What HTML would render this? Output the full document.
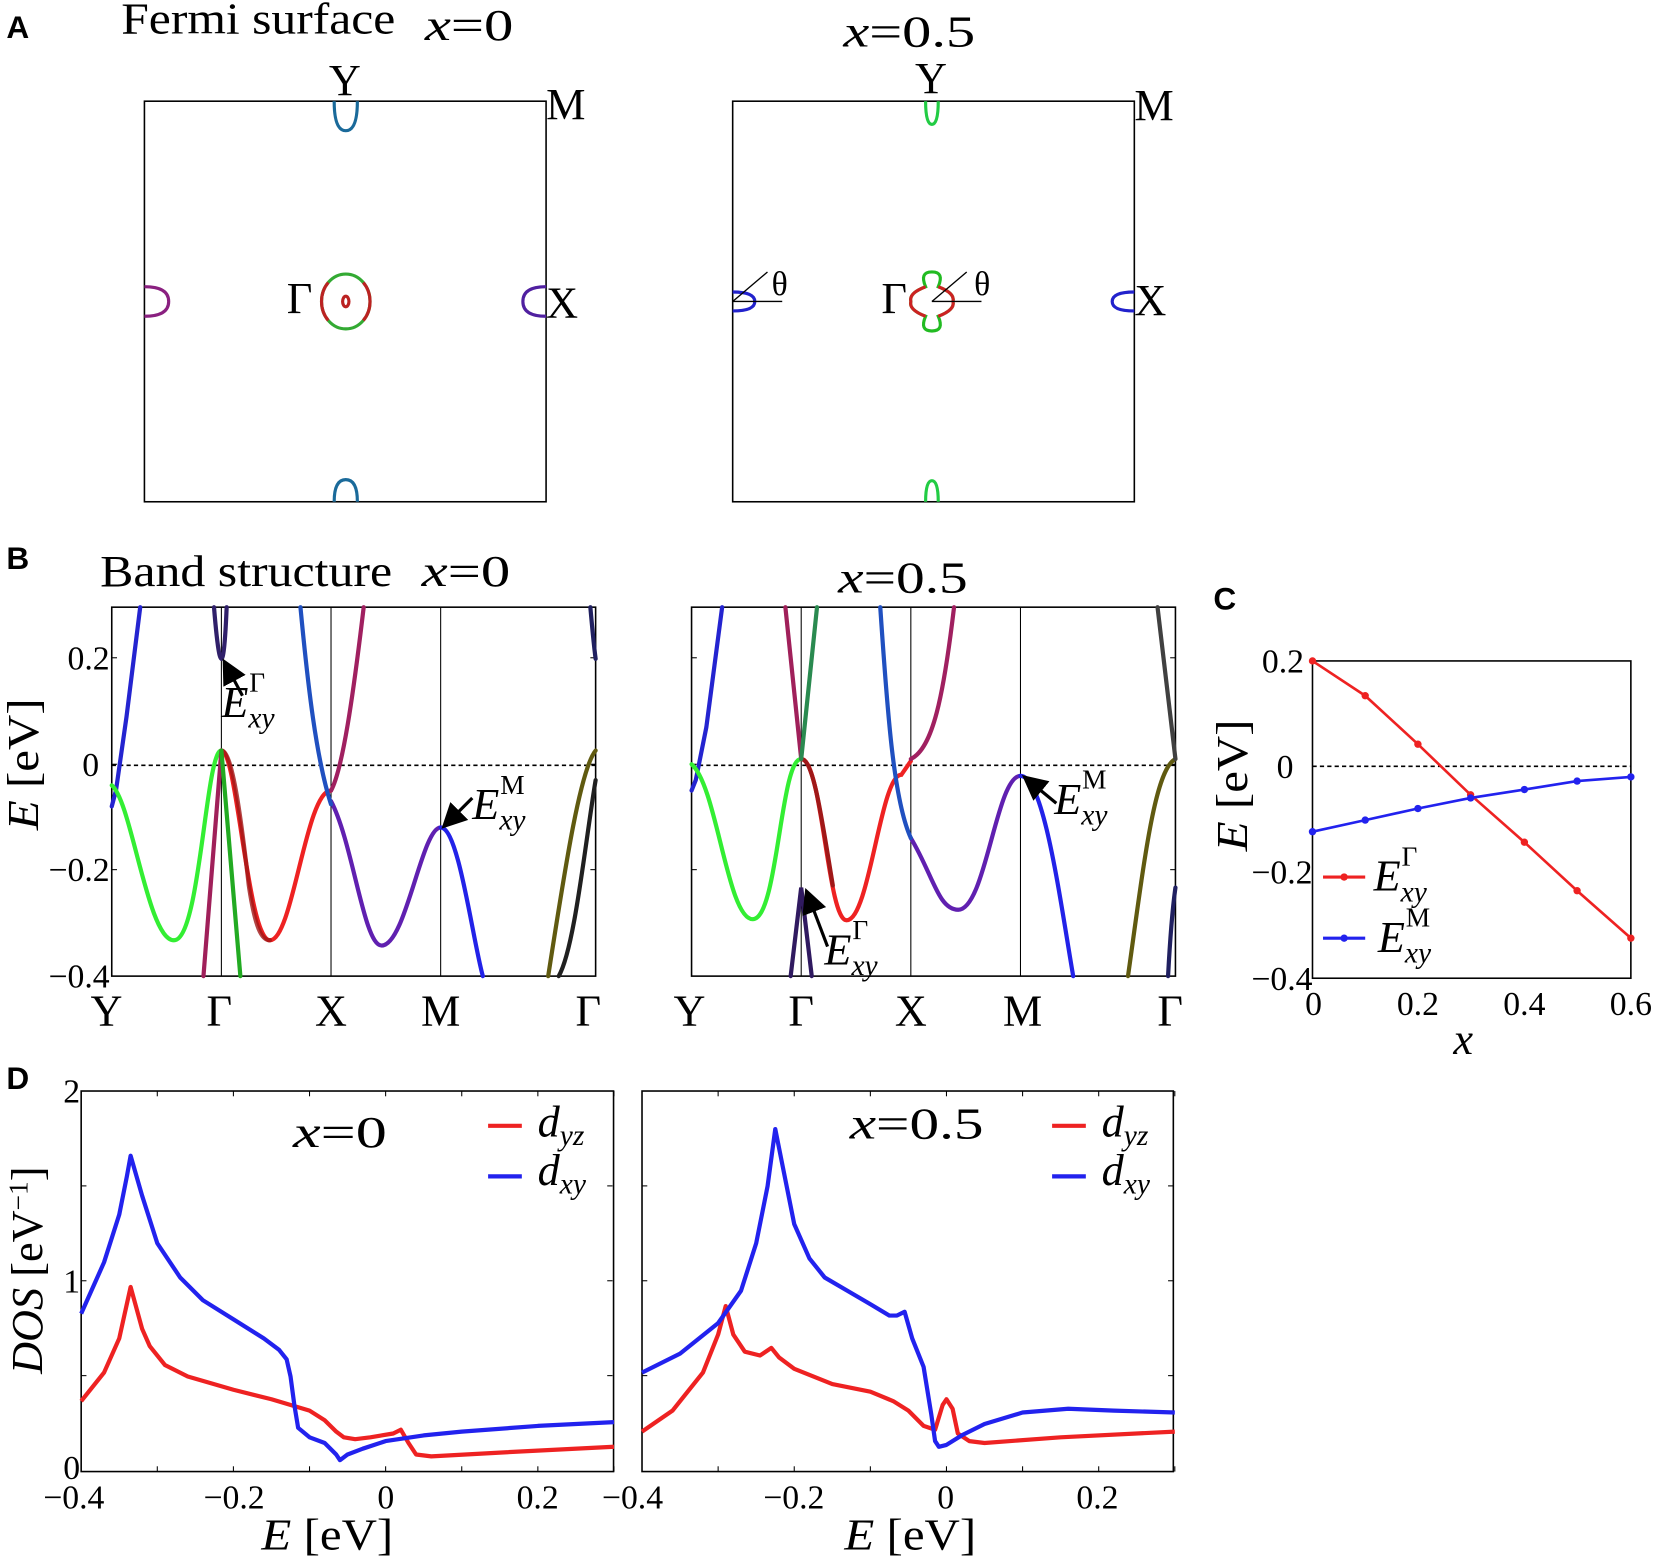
<!DOCTYPE html>
<html><head><meta charset="utf-8"><style>
html,body{margin:0;padding:0;background:#fff}
svg{display:block}
text{font-family:"Liberation Serif",serif;fill:#000}
.t{font-size:32px}
.b{font-family:"Liberation Sans",sans-serif;font-weight:bold;font-size:30px}
.big{font-size:42px}
</style></head><body>
<svg id="s" width="1653" height="1558" viewBox="0 0 1568 1478" preserveAspectRatio="none" xmlns="http://www.w3.org/2000/svg">
<defs><marker id="ar" markerWidth="8" markerHeight="8" refX="6" refY="4" orient="auto"><path d="M0,0 L8,4 L0,8 z" fill="#000"/></marker></defs>
<!-- Panel A -->
<text class="b" x="6" y="36">A</text>
<text class="big" x="115" y="32" textLength="260" lengthAdjust="spacingAndGlyphs">Fermi surface</text>
<text class="big" x="403" y="38" textLength="84" lengthAdjust="spacingAndGlyphs"><tspan font-style="italic">x</tspan>=0</text>
<text class="big" x="800" y="44" textLength="125" lengthAdjust="spacingAndGlyphs"><tspan font-style="italic">x</tspan>=0.5</text>
<rect x="137" y="96" width="381" height="380" fill="none" stroke="#000" stroke-width="1.5"/>
<rect x="695" y="96" width="381" height="380" fill="none" stroke="#000" stroke-width="1.5"/>
<g class="big">
<text x="312" y="90">Y</text><text x="518" y="113">M</text><text x="272" y="297">Γ</text><text x="518" y="301">X</text>
<text x="868" y="88">Y</text><text x="1076" y="114">M</text><text x="836" y="297">Γ</text><text x="1076" y="299">X</text>
</g>
<g fill="none" stroke-width="3">
<ellipse cx="328" cy="286" rx="23" ry="26" stroke="#3a3"/>
<path d="M311.4,268 A23,26 0 0 0 311.4,304 M344.6,268 A23,26 0 0 1 344.6,304" stroke="#b22"/>
<ellipse cx="328" cy="286" rx="3" ry="5" stroke="#b22"/>
<path d="M317,96 Q317,124 328,124 Q339,124 339,96" stroke="#1a6a9a"/>
<path d="M317,476 Q317,455 328,455 Q339,455 339,476" stroke="#1a6a9a"/>
<path d="M137,272 Q160,272 160,286 Q160,300 137,300" stroke="#8a2080"/>
<path d="M518,272 Q496,272 496,286 Q496,300 518,300" stroke="#5020a0"/>
<path d="M884,258 Q896,258 890,272 Q906,278 904,286 Q906,294 890,300 Q896,314 884,314 Q872,314 878,300 Q862,294 864,286 Q862,278 878,272 Q872,258 884,258z" stroke="#2b2"/>
<path d="M878,272 Q862,278 864,286 Q862,294 878,300 M890,272 Q906,278 904,286 Q906,294 890,300" stroke="#c22"/>
<path d="M878,96 Q878,118 884,118 Q890,118 890,96" stroke="#2c4"/>
<path d="M878,476 Q878,456 884,456 Q890,456 890,476" stroke="#2c4"/>
<path d="M695,277 Q716,277 716,286 Q716,295 695,295" stroke="#22c"/>
<path d="M1076,277 Q1055,277 1055,286 Q1055,295 1076,295" stroke="#22c"/>
</g>
<g stroke="#000" stroke-width="1.3">
<line x1="695" y1="286" x2="742" y2="286"/><line x1="695" y1="286" x2="728" y2="258"/>
<line x1="884" y1="286" x2="931" y2="286"/><line x1="884" y1="286" x2="917" y2="258"/>
</g>
<text class="t" x="732" y="280">θ</text><text class="t" x="924" y="280">θ</text>
<!-- Panel B -->
<text class="b" x="6" y="540">B</text>
<text class="big" x="95" y="556" textLength="277" lengthAdjust="spacingAndGlyphs">Band structure</text>
<text class="big" x="400" y="556" textLength="84" lengthAdjust="spacingAndGlyphs"><tspan font-style="italic">x</tspan>=0</text>
<text class="big" x="795" y="562" textLength="123" lengthAdjust="spacingAndGlyphs"><tspan font-style="italic">x</tspan>=0.5</text>
<g id="bframes"></g>
<text class="big" transform="translate(36,725) rotate(-90)" text-anchor="middle" textLength="125" lengthAdjust="spacingAndGlyphs"><tspan font-style="italic">E</tspan> [eV]</text>
<g class="t" text-anchor="end">
<text x="104" y="635">0.2</text><text x="94" y="736">0</text><text x="104" y="836">−0.2</text><text x="104" y="937">−0.4</text>
</g>
<g class="big" text-anchor="middle">
<text x="101" y="973">Y</text><text x="208" y="973">Γ</text><text x="314" y="973">X</text><text x="418" y="973">M</text><text x="558" y="973">Γ</text>
<text x="654" y="973">Y</text><text x="760" y="973">Γ</text><text x="864" y="973">X</text><text x="970" y="973">M</text><text x="1110" y="973">Γ</text>
</g>
<g fill="none" stroke-width="4" stroke-linecap="round">
<path d="M133,576 L120,680 L110,750 L106,765" stroke="#2424d0"/>
<path d="M106,745 C125,760 140,892 165,892 C190,892 195,712 210,712" stroke="#3e3"/>
<path d="M210,712 C225,712 235,892 256,892 C278,892 290,750 314,750" stroke="#e22"/>
<path d="M210,712 C220,712 228,770 236,840 C242,880 248,892 256,892" stroke="#a01818" opacity=".8"/>
<path d="M314,760 C335,800 345,897 362,897 C385,897 400,785 418,785" stroke="#6020b0"/>
<path d="M418,785 C435,785 448,890 458,926" stroke="#2222e8"/>
<path d="M193,926 L210,712" stroke="#a0205a"/>
<path d="M210,712 L228,926" stroke="#2a2"/>
<path d="M203,576 Q207,625 210,625 Q213,625 215,576" stroke="#30206a"/>
<path d="M285,576 C292,650 300,720 314,763" stroke="#2050c0"/>
<path d="M345,576 C335,660 325,730 314,750" stroke="#a02060"/>
<path d="M520,926 C535,830 550,730 565,712" stroke="#605a10"/>
<path d="M530,926 C545,900 555,800 565,740" stroke="#202020"/>
<path d="M560,576 Q563,610 565,625" stroke="#202060"/>

<path d="M685,576 L670,690 L660,740 L656,750" stroke="#2424d0"/>
<path d="M656,725 C680,745 690,872 714,872 C738,872 740,720 760,720" stroke="#3e3"/>
<path d="M760,720 C780,720 785,873 803,873 C825,873 835,735 855,735 L864,722" stroke="#e22"/>
<path d="M760,720 C772,720 780,780 790,840" stroke="#a01818"/>
<path d="M864,795 C885,830 890,863 909,863 C935,863 945,736 968,736" stroke="#6020b0"/>
<path d="M968,736 C990,736 1005,850 1018,926" stroke="#2222e8"/>
<path d="M745,576 L760,720" stroke="#a0205a"/>
<path d="M775,576 L760,720" stroke="#2a8a50"/>
<path d="M750,926 L760,842 L770,926" stroke="#301a60"/>
<path d="M835,576 C842,680 848,760 864,795" stroke="#2050c0"/>
<path d="M905,576 C895,660 885,710 864,720" stroke="#a02060"/>
<path d="M1070,926 C1085,820 1095,730 1115,720" stroke="#605a10"/>
<path d="M1098,576 Q1108,660 1115,720" stroke="#404040"/>
<path d="M1108,926 Q1111,870 1115,842" stroke="#202060"/>
</g>
<g stroke="#000" stroke-width="3" fill="none" marker-end="url(#ar)">
<line x1="230" y1="660" x2="214" y2="630"/>
<line x1="448" y1="757" x2="423" y2="782"/>
<line x1="1002" y1="762" x2="974" y2="739"/>
<line x1="785" y1="898" x2="766" y2="848"/>
</g>
<g class="big" font-style="italic">
<text x="210" y="680">E<tspan font-size="28" dy="10">xy</tspan><tspan font-size="26" font-style="normal" dx="-24" dy="-34">Γ</tspan></text>
<text x="448" y="777">E<tspan font-size="28" dy="10">xy</tspan><tspan font-size="26" font-style="normal" dx="-24" dy="-34">M</tspan></text>
<text x="1000" y="772">E<tspan font-size="28" dy="10">xy</tspan><tspan font-size="26" font-style="normal" dx="-24" dy="-34">M</tspan></text>
<text x="782" y="915">E<tspan font-size="28" dy="10">xy</tspan><tspan font-size="26" font-style="normal" dx="-24" dy="-34">Γ</tspan></text>
</g>
<!-- Panel C -->
<text class="b" x="1151" y="578">C</text>
<rect x="1245" y="627" width="302" height="301" fill="none" stroke="#000" stroke-width="1.5"/>
<line x1="1245" y1="727" x2="1547" y2="727" stroke="#000" stroke-dasharray="4,3" stroke-width="1.5"/>
<g class="t" text-anchor="end">
<text x="1237" y="638">0.2</text><text x="1227" y="738">0</text><text x="1245" y="838">−0.2</text><text x="1245" y="939">−0.4</text>
</g>
<g class="t" text-anchor="middle">
<text x="1246" y="963">0</text><text x="1345" y="963">0.2</text><text x="1446" y="963">0.4</text><text x="1547" y="963">0.6</text>
</g>
<text class="big" x="1388" y="1000" font-style="italic" text-anchor="middle">x</text>
<text class="big" transform="translate(1183,745) rotate(-90)" text-anchor="middle" textLength="125" lengthAdjust="spacingAndGlyphs"><tspan font-style="italic">E</tspan> [eV]</text>
<polyline points="1245,627 1295,660 1345,706 1395,754 1446,799 1496,845 1547,890" fill="none" stroke="#e22" stroke-width="2.5"/>
<polyline points="1245,789 1295,778 1345,767 1395,757 1446,749 1496,741 1547,737" fill="none" stroke="#22e" stroke-width="2.5"/>
<g fill="#e22"><circle cx="1245" cy="627" r="3.5"/><circle cx="1295" cy="660" r="3.5"/><circle cx="1345" cy="706" r="3.5"/><circle cx="1395" cy="754" r="3.5"/><circle cx="1446" cy="799" r="3.5"/><circle cx="1496" cy="845" r="3.5"/><circle cx="1547" cy="890" r="3.5"/></g>
<g fill="#22e"><circle cx="1245" cy="789" r="3.5"/><circle cx="1295" cy="778" r="3.5"/><circle cx="1345" cy="767" r="3.5"/><circle cx="1395" cy="757" r="3.5"/><circle cx="1446" cy="749" r="3.5"/><circle cx="1496" cy="741" r="3.5"/><circle cx="1547" cy="737" r="3.5"/></g>
<line x1="1255" y1="832" x2="1295" y2="832" stroke="#e22" stroke-width="3"/><circle cx="1275" cy="832" r="3.5" fill="#e22"/>
<line x1="1255" y1="890" x2="1295" y2="890" stroke="#22e" stroke-width="3"/><circle cx="1275" cy="890" r="3.5" fill="#22e"/>
<g class="big" font-style="italic">
<text x="1303" y="845">E<tspan font-size="28" dy="10">xy</tspan><tspan font-size="26" font-style="normal" dx="-24" dy="-34">Γ</tspan></text>
<text x="1307" y="903">E<tspan font-size="28" dy="10">xy</tspan><tspan font-size="26" font-style="normal" dx="-24" dy="-34">M</tspan></text>
</g>
<!-- Panel D -->
<text class="b" x="6" y="1033">D</text>
<rect x="77" y="1035" width="505" height="361" fill="none" stroke="#000" stroke-width="1.5"/>
<rect x="609" y="1035" width="504" height="361" fill="none" stroke="#000" stroke-width="1.5"/>
<g id="dticks"></g>
<g class="t" text-anchor="end"><text x="76" y="1046">2</text><text x="76" y="1226">1</text><text x="76" y="1403">0</text></g>
<g class="t" text-anchor="middle">
<text x="70" y="1431">−0.4</text><text x="222" y="1431">−0.2</text><text x="366" y="1431">0</text><text x="510" y="1431">0.2</text>
<text x="600" y="1431">−0.4</text><text x="753" y="1431">−0.2</text><text x="897" y="1431">0</text><text x="1041" y="1431">0.2</text>
</g>
<text class="big" x="248" y="1470" textLength="125" lengthAdjust="spacingAndGlyphs"><tspan font-style="italic">E</tspan> [eV]</text>
<text class="big" x="801" y="1470" textLength="125" lengthAdjust="spacingAndGlyphs"><tspan font-style="italic">E</tspan> [eV]</text>
<text class="big" transform="translate(40,1205) rotate(-90)" text-anchor="middle"><tspan font-style="italic">DOS</tspan> [eV<tspan font-size="26" dy="-14">−1</tspan><tspan dy="14">]</tspan></text>
<text class="big" x="278" y="1088" textLength="89" lengthAdjust="spacingAndGlyphs"><tspan font-style="italic">x</tspan>=0</text>
<text class="big" x="806" y="1080" textLength="127" lengthAdjust="spacingAndGlyphs"><tspan font-style="italic">x</tspan>=0.5</text>
<g stroke-width="4"><line x1="463" y1="1068" x2="495" y2="1068" stroke="#e22"/><line x1="463" y1="1116" x2="495" y2="1116" stroke="#22e"/>
<line x1="998" y1="1068" x2="1030" y2="1068" stroke="#e22"/><line x1="998" y1="1116" x2="1030" y2="1116" stroke="#22e"/></g>
<g class="big" font-style="italic">
<text x="510" y="1078">d<tspan font-size="28" dy="8">yz</tspan></text><text x="510" y="1124">d<tspan font-size="28" dy="8">xy</tspan></text>
<text x="1045" y="1078">d<tspan font-size="28" dy="8">yz</tspan></text><text x="1045" y="1124">d<tspan font-size="28" dy="8">xy</tspan></text>
</g>
<g id="dcurves" fill="none" stroke-width="4" stroke-linejoin="round"></g>
</svg>
<script>
var NS="http://www.w3.org/2000/svg";
function el(p,t,a){var e=document.createElementNS(NS,t);for(var k in a)e.setAttribute(k,a[k]);document.getElementById(p).appendChild(e);}
[[106,565,[210,314,418]],[656,1115,[760,864,968]]].forEach(function(f){
 el("bframes","rect",{x:f[0],y:576,width:f[1]-f[0],height:350,fill:"none",stroke:"#000","stroke-width":1.5});
 f[2].forEach(function(x){el("bframes","line",{x1:x,y1:576,x2:x,y2:926,stroke:"#000","stroke-width":1});});
 el("bframes","line",{x1:f[0],y1:726,x2:f[1],y2:726,stroke:"#000","stroke-dasharray":"4,3","stroke-width":1.5});
 [624,725,825].forEach(function(y){el("bframes","line",{x1:f[0],y1:y,x2:f[0]+5,y2:y,stroke:"#000"});el("bframes","line",{x1:f[1]-5,y1:y,x2:f[1],y2:y,stroke:"#000"});});
});
function curve(x0,pts,col){
 var s="";pts.forEach(function(p,i){var x=x0+(p[0]+0.4)*722,y=1396-p[1]*180.5;s+=(i?"L":"M")+x.toFixed(1)+","+y.toFixed(1);});
 el("dcurves","path",{d:s,stroke:col});
}
[77,609].forEach(function(x0){
 for(var e=-0.3;e<0.31;e+=0.1){var x=x0+(e+0.4)*722;el("dticks","line",{x1:x,y1:1035,x2:x,y2:1040,stroke:"#000"});el("dticks","line",{x1:x,y1:1391,x2:x,y2:1396,stroke:"#000"});}
 [1215,1305,1125].forEach(function(y){el("dticks","line",{x1:x0,y1:y,x2:x0+5,y2:y,stroke:"#000"});el("dticks","line",{x1:x0+499,y1:y,x2:x0+504,y2:y,stroke:"#000"});});
});
curve(77,[[-0.4,0.37],[-0.37,0.52],[-0.35,0.7],[-0.335,0.97],[-0.32,0.75],[-0.31,0.66],[-0.29,0.56],[-0.26,0.5],[-0.2,0.43],[-0.15,0.38],[-0.1,0.32],[-0.08,0.27],[-0.065,0.21],[-0.055,0.18],[-0.04,0.17],[-0.02,0.18],[0.01,0.2],[0.02,0.22],[0.03,0.15],[0.04,0.09],[0.06,0.08],[0.15,0.1],[0.3,0.13]],"#e22");
curve(77,[[-0.4,0.83],[-0.37,1.1],[-0.35,1.35],[-0.34,1.55],[-0.335,1.66],[-0.32,1.45],[-0.3,1.2],[-0.27,1.02],[-0.24,0.9],[-0.2,0.8],[-0.16,0.7],[-0.14,0.64],[-0.13,0.59],[-0.125,0.5],[-0.12,0.35],[-0.115,0.23],[-0.1,0.18],[-0.08,0.15],[-0.065,0.09],[-0.06,0.06],[-0.05,0.09],[-0.03,0.12],[0,0.16],[0.05,0.19],[0.1,0.21],[0.2,0.24],[0.3,0.26]],"#22e");
curve(609,[[-0.4,0.21],[-0.36,0.32],[-0.32,0.52],[-0.3,0.72],[-0.29,0.87],[-0.28,0.72],[-0.265,0.63],[-0.245,0.61],[-0.23,0.65],[-0.22,0.6],[-0.2,0.54],[-0.15,0.46],[-0.1,0.42],[-0.07,0.37],[-0.05,0.32],[-0.03,0.24],[-0.015,0.22],[-0.005,0.35],[0,0.38],[0.008,0.33],[0.015,0.2],[0.03,0.16],[0.05,0.15],[0.15,0.18],[0.3,0.21]],"#e22");
curve(609,[[-0.4,0.52],[-0.35,0.62],[-0.3,0.78],[-0.27,0.95],[-0.25,1.2],[-0.235,1.5],[-0.225,1.8],[-0.215,1.6],[-0.2,1.3],[-0.18,1.12],[-0.16,1.02],[-0.13,0.95],[-0.1,0.88],[-0.075,0.82],[-0.065,0.82],[-0.055,0.84],[-0.045,0.7],[-0.03,0.55],[-0.02,0.3],[-0.015,0.16],[-0.01,0.13],[0,0.14],[0.02,0.19],[0.05,0.25],[0.1,0.31],[0.16,0.33],[0.22,0.32],[0.3,0.31]],"#22e");
</script>
</body></html>
